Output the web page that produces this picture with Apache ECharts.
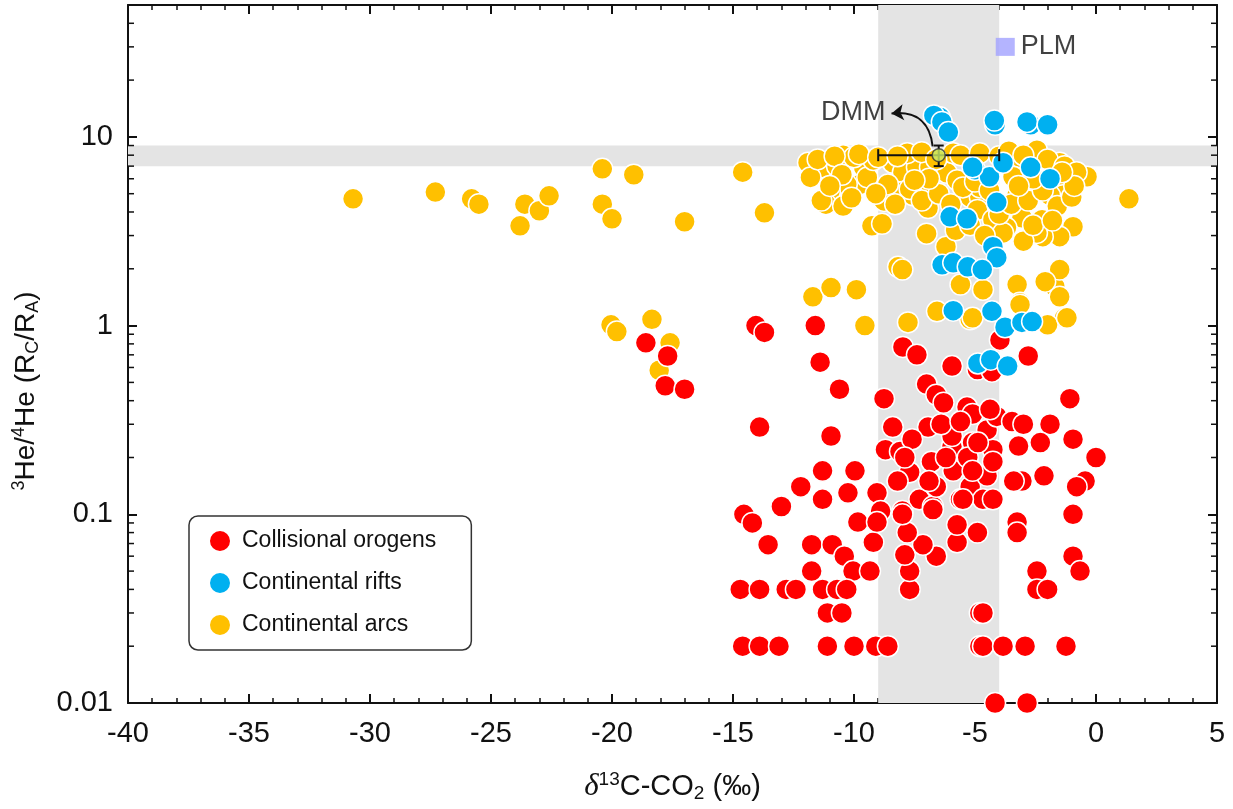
<!DOCTYPE html>
<html>
<head>
<meta charset="utf-8">
<script src="https://cdn.jsdelivr.net/npm/echarts@6/dist/echarts.min.js"></script>
<style>
  html, body { margin: 0; padding: 0; background: #fff; }
  #chart { width: 1233px; height: 809px; }
</style>
</head>
<body>
<div id="chart"></div>
<script>
// values: [δ13C-CO2, 3He/4He (Rc/Ra)]
const orogens = [
  [-18.6, 0.81], [-17.7, 0.69], [-17.8, 0.48], [-17.0, 0.46],
  [-14.05, 1.0], [-13.7, 0.92], [-11.6, 1.0], [-11.4, 0.64], [-10.6, 0.46], [-13.9, 0.29], [-10.95, 0.26],
  [-11.3, 0.17], [-9.96, 0.17], [-12.2, 0.14], [-13.0, 0.11], [-14.55, 0.1], [-14.2, 0.09], [-11.3, 0.12], [-10.25, 0.13], [-9.05, 0.13],
  [-8.76, 0.41], [-7.98, 0.77], [-7.4, 0.7], [-5.95, 0.61], [-7.0, 0.49], [-6.6, 0.43], [-6.3, 0.39], [-5.33, 0.37], [-5.1, 0.34],
  [-6.94, 0.29], [-8.4, 0.29], [-8.7, 0.22], [-8.1, 0.215], [-6.8, 0.19], [-5.95, 0.23], [-5.95, 0.26], [-5.1, 0.24], [-7.7, 0.167],
  [-8.2, 0.15], [-7.3, 0.12], [-6.74, 0.11], [-5.9, 0.17], [-5.6, 0.12], [-8.0, 0.104], [-6.6, 0.14], [-8.9, 0.104],
  [-7.6, 0.25], [-6.2, 0.2], [-5.3, 0.2], [-4.5, 0.28], [-6.9, 0.15], [-5.2, 0.14], [-4.5, 0.16], [-7.9, 0.2], [-6.4, 0.3], [-5.6, 0.31], [-4.1, 0.33],
  [-13.55, 0.069], [-11.75, 0.069], [-10.9, 0.069], [-10.4, 0.06], [-11.75, 0.05], [-10.04, 0.05], [-9.34, 0.05], [-9.2, 0.071], [-9.84, 0.091], [-9.05, 0.091],
  [-14.7, 0.04], [-13.9, 0.04], [-12.8, 0.04], [-12.4, 0.04], [-11.3, 0.04], [-10.7, 0.04], [-10.3, 0.04], [-11.1, 0.03], [-10.5, 0.03],
  [-14.6, 0.02], [-13.9, 0.02], [-13.1, 0.02], [-11.1, 0.02], [-10.0, 0.02], [-9.1, 0.02], [-8.6, 0.02],
  [-7.7, 0.04], [-7.7, 0.05], [-7.9, 0.061], [-6.6, 0.06], [-7.15, 0.069], [-5.74, 0.071], [-5.74, 0.088], [-7.8, 0.08], [-8.0, 0.1], [-6.74, 0.106],
  [-4.9, 0.08], [-4.8, 0.03], [-4.8, 0.02],
  [-0.95, 0.1], [-3.26, 0.091], [-3.26, 0.08], [-0.95, 0.06], [-0.66, 0.05], [-2.44, 0.05], [-2.44, 0.04], [-2.0, 0.04], [-4.67, 0.03],
  [-4.67, 0.02], [-3.84, 0.02], [-2.93, 0.02], [-1.24, 0.02], [-4.17, 0.01], [-2.85, 0.01],
  [-2.8, 0.69], [-3.97, 0.84], [-4.9, 0.585], [-4.3, 0.57], [-1.08, 0.41], [-3.47, 0.31], [-3.0, 0.3], [-1.9, 0.3], [-2.3, 0.24], [-3.2, 0.23],
  [-0.95, 0.25], [0.0, 0.2], [-0.45, 0.15], [-0.8, 0.14], [-2.15, 0.16], [-3.06, 0.15], [-3.4, 0.15], [-4.26, 0.22], [-4.38, 0.36], [-4.88, 0.24],
  [-4.26, 0.19], [-5.1, 0.17], [-4.67, 0.12], [-4.26, 0.12], [-5.5, 0.12]
];

const rifts = [
  [-6.45, 12.7], [-6.7, 13.0], [-6.37, 12.0], [-6.1, 10.6], [-4.17, 11.6], [-4.2, 12.2], [-2.7, 11.6], [-2.85, 12.0], [-2.0, 11.6],
  [-5.0, 6.7], [-4.4, 6.15], [-3.84, 7.3], [-5.1, 6.9], [-2.7, 6.9], [-1.9, 6.0], [-4.1, 4.5], [-6.03, 3.77], [-5.33, 3.68],
  [-4.26, 2.62], [-4.1, 2.29], [-6.36, 2.1], [-5.9, 2.15], [-5.3, 2.05], [-4.7, 1.98], [-5.9, 1.2], [-4.3, 1.19],
  [-3.76, 0.98], [-3.06, 1.04], [-2.64, 1.05], [-4.88, 0.63], [-4.35, 0.66], [-3.65, 0.61]
];

const arcs = [
  [-30.7, 4.7], [-27.3, 5.1], [-25.8, 4.7], [-25.5, 4.4], [-23.6, 4.4], [-23.0, 4.06], [-22.6, 4.87], [-23.8, 3.38],
  [-20.4, 6.77], [-19.1, 6.3], [-20.4, 4.4], [-20.0, 3.68], [-17.0, 3.55], [-20.04, 1.01], [-19.8, 0.93], [-18.35, 1.08], [-17.6, 0.81], [-18.05, 0.58],
  [-14.6, 6.5], [-13.7, 3.96],
  [-11.7, 1.42], [-10.95, 1.59], [-9.9, 1.55], [-9.55, 1.0], [-7.77, 1.04],
  [-9.26, 3.38], [-8.84, 3.46], [-8.18, 2.05], [-8.0, 1.98], [-7.0, 3.07], [-6.2, 2.62], [-5.6, 1.65], [-6.57, 1.19],
  [-8.76, 4.58], [-8.06, 5.1], [-6.94, 4.2],
  [-11.9, 7.3], [-11.3, 6.9], [-11.8, 6.1], [-10.45, 8.0], [-10.7, 7.0], [-9.6, 6.9], [-9.75, 5.6], [-10.3, 5.6], [-11.0, 5.1],
  [-11.16, 4.4], [-10.45, 4.3], [-10.1, 4.76], [-9.45, 6.1], [-11.35, 4.6], [-10.0, 7.8], [-9.2, 7.55],
  [-8.4, 7.3], [-7.98, 6.5], [-8.0, 5.1], [-7.4, 6.9], [-6.86, 6.9], [-7.0, 5.8], [-7.56, 4.9], [-6.16, 6.45], [-5.74, 5.9], [-5.2, 4.8], [-7.8, 8.2], [-5.9, 8.2],
  [-0.37, 6.15], [1.36, 4.7], [-0.95, 3.34], [-1.5, 2.96], [-2.2, 2.96], [-3.06, 3.73], [-2.23, 3.64], [-3.7, 3.3], [-2.44, 3.1],
  [-1.5, 7.3], [-1.2, 5.9], [-1.36, 4.9], [-1.9, 4.9], [-2.44, 8.5], [-3.14, 7.8], [-3.43, 6.15], [-3.26, 4.9], [-4.8, 4.8], [-4.8, 5.4],
  [-4.9, 4.1], [-4.26, 3.64], [-3.84, 3.1],
  [-3.26, 1.65], [-1.7, 1.61], [-1.5, 1.98], [-2.1, 1.71], [-3.14, 1.32], [-1.5, 1.42], [-1.3, 1.1], [-2.0, 1.01], [-4.67, 1.55],
  [-5.2, 1.08], [-5.1, 1.1], [-3.14, 1.29], [-1.2, 1.1],
  [-11.5, 7.6], [-10.8, 7.9], [-9.8, 8.1], [-9.0, 7.8], [-8.2, 7.9], [-7.2, 8.3], [-6.6, 7.6], [-5.6, 8.0], [-4.8, 8.2], [-4.0, 7.9],
  [-3.6, 8.4], [-3.0, 8.0], [-2.0, 7.6], [-1.3, 7.0], [-0.8, 6.5],
  [-8.6, 5.6], [-7.7, 5.3], [-7.2, 4.6], [-6.5, 5.0], [-6.0, 4.4], [-5.5, 5.4], [-5.0, 5.8], [-4.4, 5.2], [-4.0, 3.9], [-3.5, 4.4],
  [-2.8, 4.6], [-2.2, 5.2], [-1.6, 4.3], [-1.0, 4.8], [-5.8, 3.2], [-5.2, 3.4], [-4.6, 3.0], [-3.0, 2.8], [-2.6, 3.4], [-1.8, 3.6],
  [-0.9, 5.5], [-1.4, 6.5], [-2.6, 6.0], [-3.2, 5.5], [-6.9, 6.0], [-7.5, 5.9], [-8.3, 4.4], [-10.5, 6.3], [-11.0, 5.5], [-9.1, 5.0]
];

// DMM reference: x, y, x-range, y-range
const dmm = [[-6.5, 8.0, -9, -4, 7, 9]];
const dmmArrow = [[-6.75, 8.9], [-8.45, 13.3]];
const dmmLabelAt = [[-8.7, 13.4]];
const plm = [[-3.75, 30]];

// shaded ranges
const xBand = [-9, -4];
const yBand = [7, 9];

const xTicks = { min: -40, max: 5, step: 5 };
const yRange = { min: 0.01, max: 50 };
const yMinorTicks = [
  0.02, 0.03, 0.04, 0.05, 0.06, 0.07, 0.08, 0.09,
  0.2, 0.3, 0.4, 0.5, 0.6, 0.7, 0.8, 0.9,
  2, 3, 4, 5, 6, 7, 8, 9,
  20, 30, 40
];

const chart = echarts.init(document.getElementById('chart'));

const FONT = 'Liberation Sans, Arial, sans-serif';
const INK = '#111';

function xAxisBase(pos) {
  return {
    type: 'value', position: pos,
    min: xTicks.min, max: xTicks.max, interval: xTicks.step,
    axisLine: { show: true, onZero: false, lineStyle: { color: INK, width: 2 } },
    axisTick: { show: true, inside: true, length: 9, lineStyle: { color: INK, width: 2 } },
    minorTick: { show: true, splitNumber: 5, length: 5, lineStyle: { color: INK, width: 1.5 } },
    splitLine: { show: false },
    axisLabel: { show: pos === 'bottom', fontSize: 29, color: INK, fontFamily: FONT, margin: 16 }
  };
}

function yAxisBase(pos) {
  return {
    type: 'log', logBase: 10, position: pos,
    min: yRange.min, max: yRange.max,
    axisLine: { show: true, onZero: false, lineStyle: { color: INK, width: 2 } },
    axisTick: { show: true, inside: true, length: 9, lineStyle: { color: INK, width: 2 } },
    splitLine: { show: false },
    axisLabel: {
      show: pos === 'left', fontSize: 29, color: INK, fontFamily: FONT, margin: 15,
      showMaxLabel: false,
      formatter: function (v) { return String(+v.toPrecision(2)); }
    }
  };
}

const xBottom = xAxisBase('bottom');
xBottom.name = '{d|δ}{sup|13}C-CO{sub|2} (‰)';
xBottom.nameLocation = 'middle';
xBottom.nameGap = 67;
xBottom.nameTextStyle = {
  fontSize: 29, color: INK, fontFamily: FONT,
  rich: {
    d: { fontSize: 31, fontStyle: 'italic', fontFamily: 'Liberation Serif, serif', color: INK },
    sup: { fontSize: 19, color: INK, fontFamily: FONT, padding: [0, 0, 14, 0] },
    sub: { fontSize: 19, color: INK, fontFamily: FONT, padding: [14, 0, 0, 0] }
  }
};

const yLeft = yAxisBase('left');
yLeft.name = '{sup|3}He/{sup|4}He (R{sub|C}/R{sub|A})';
yLeft.nameLocation = 'middle';
yLeft.nameGap = 86;
yLeft.nameTextStyle = {
  fontSize: 28, color: INK, fontFamily: FONT,
  padding: [0, 74, 0, 0],
  rich: {
    sup: { fontSize: 18, color: INK, fontFamily: FONT, padding: [0, 0, 14, 0] },
    sub: { fontSize: 18, color: INK, fontFamily: FONT, padding: [14, 0, 0, 0] }
  }
};

function dotSeries(name, data, color, z) {
  return {
    name: name, type: 'scatter', data: data, z: z,
    symbol: 'circle', symbolSize: 21,
    itemStyle: { color: color, borderColor: '#fff', borderWidth: 1.5, opacity: 1 }
  };
}

const option = {
  animation: false,
  backgroundColor: '#fff',
  grid: { left: 128, right: 16, top: 5, bottom: 106, containLabel: false },
  xAxis: [xBottom, xAxisBase('top')],
  yAxis: [yLeft, yAxisBase('right')],
  legend: {
    orient: 'vertical', left: 189, top: 516,
    data: ['Collisional orogens', 'Continental rifts', 'Continental arcs'],
    icon: 'circle', itemWidth: 22, itemHeight: 22, itemGap: 18,
    padding: [13, 35, 13, 19],
    borderColor: '#333', borderWidth: 1.5, borderRadius: 9,
    backgroundColor: '#fff',
    textStyle: { fontSize: 23, color: INK, fontFamily: FONT, padding: [0, 0, 0, 6] }
  },
  series: [
    {
      name: 'bands', type: 'scatter', data: [], z: 1, silent: true,
      markArea: {
        silent: true,
        itemStyle: { color: '#e4e4e4' },
        data: [
          [{ xAxis: xBand[0] }, { xAxis: xBand[1] }],
          [{ yAxis: yBand[0] }, { yAxis: yBand[1] }]
        ]
      }
    },
    dotSeries('Continental arcs', arcs, '#ffc000', 2),
    dotSeries('Collisional orogens', orogens, '#ff0000', 3),
    dotSeries('Continental rifts', rifts, '#00b0f0', 4),
    {
      name: 'DMM range', type: 'custom', z: 6, silent: true,
      data: dmm,
      encode: { x: [0, 2, 3], y: [1, 4, 5] },
      renderItem: function (params, api) {
        const c = api.coord([api.value(0), api.value(1)]);
        const l = api.coord([api.value(2), api.value(1)]);
        const r = api.coord([api.value(3), api.value(1)]);
        const b = api.coord([api.value(0), api.value(4)]);
        const t = api.coord([api.value(0), api.value(5)]);
        const st = { stroke: INK, lineWidth: 2 };
        return {
          type: 'group',
          children: [
            { type: 'line', shape: { x1: l[0], y1: c[1], x2: r[0], y2: c[1] }, style: st },
            { type: 'line', shape: { x1: l[0], y1: c[1] - 6, x2: l[0], y2: c[1] + 6 }, style: st },
            { type: 'line', shape: { x1: r[0], y1: c[1] - 6, x2: r[0], y2: c[1] + 6 }, style: st },
            { type: 'line', shape: { x1: c[0], y1: b[1], x2: c[0], y2: t[1] }, style: st },
            { type: 'line', shape: { x1: c[0] - 5, y1: b[1], x2: c[0] + 5, y2: b[1] }, style: st },
            { type: 'line', shape: { x1: c[0] - 5, y1: t[1], x2: c[0] + 5, y2: t[1] }, style: st }
          ]
        };
      }
    },
    {
      name: 'DMM', type: 'scatter', z: 7, silent: true,
      data: dmm.map(function (d) { return [d[0], d[1]]; }),
      symbol: 'circle', symbolSize: 13,
      itemStyle: { color: '#c8ec6a', borderColor: '#333', borderWidth: 1.5 }
    },
    {
      name: 'DMM arrow', type: 'lines', coordinateSystem: 'cartesian2d', z: 6, silent: true,
      data: [{ coords: dmmArrow }],
      symbol: ['none', 'arrow'], symbolSize: 12,
      lineStyle: { color: INK, width: 2, curveness: -0.5, opacity: 1 }
    },
    {
      name: 'DMM label', type: 'scatter', z: 7, silent: true,
      data: dmmLabelAt, symbolSize: 0,
      label: { show: true, position: 'left', distance: 0, formatter: 'DMM', fontSize: 27, color: INK, fontFamily: FONT }
    },
    {
      name: 'PLM', type: 'scatter', z: 7, silent: true,
      data: plm, symbol: 'rect', symbolSize: [19, 18],
      itemStyle: { color: '#a1a1ff' },
      label: { show: true, position: 'right', distance: 6, formatter: 'PLM', fontSize: 27, color: INK, fontFamily: FONT }
    },
    {
      name: 'log minor ticks', type: 'custom', z: 8, silent: true, clip: false,
      data: yMinorTicks.map(function (v) { return [xTicks.min, v]; }),
      renderItem: function (params, api) {
        const p = api.coord([api.value(0), api.value(1)]);
        const cs = params.coordSys;
        const st = { stroke: INK, lineWidth: 1.5 };
        return {
          type: 'group',
          children: [
            { type: 'line', shape: { x1: cs.x, y1: p[1], x2: cs.x + 6, y2: p[1] }, style: st },
            { type: 'line', shape: { x1: cs.x + cs.width - 6, y1: p[1], x2: cs.x + cs.width, y2: p[1] }, style: st }
          ]
        };
      }
    }
  ]
};

chart.setOption(option);
</script>
</body>
</html>
